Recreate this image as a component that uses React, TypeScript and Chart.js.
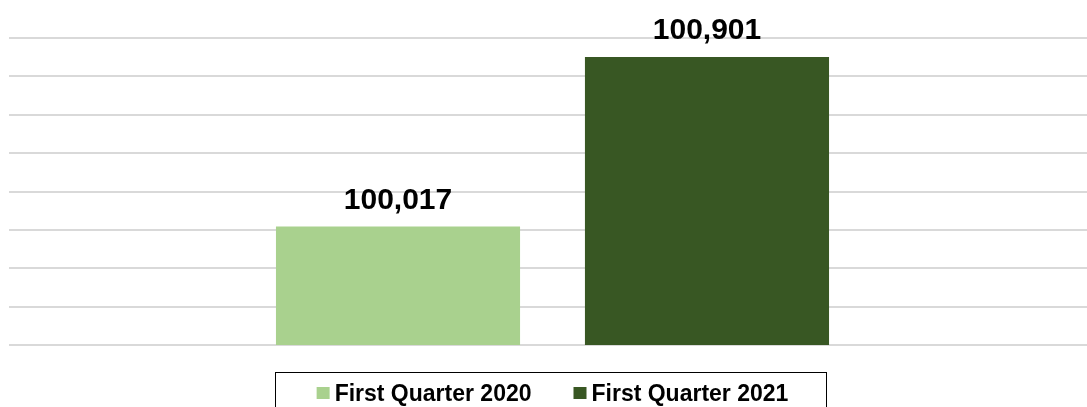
import React, { useEffect, useRef } from "react";
import { Chart, registerables } from "chart.js";

Chart.register(...registerables);

const categories: string[] = ["First Quarter"];
const seriesLabels: string[] = ["First Quarter 2020", "First Quarter 2021"];
const values2020: number[] = [100017];
const values2021: number[] = [100901];
const seriesColors: string[] = ["#A9D18E", "#385723"];
const yMin = 99400;
const yMax = 101000;
const yStep = 200;

const FONT = '"Liberation Sans", Arial, sans-serif';

const valueLabelsPlugin = {
  id: "valueLabels",
  afterDatasetsDraw(chart: any) {
    const ctx = chart.ctx;
    ctx.save();
    ctx.font = `bold 30px ${FONT}`;
    ctx.fillStyle = "#000000";
    ctx.textAlign = "center";
    ctx.textBaseline = "alphabetic";
    chart.data.datasets.forEach((ds: any, i: number) => {
      const meta = chart.getDatasetMeta(i);
      meta.data.forEach((bar: any, j: number) => {
        const v = ds.data[j] as number;
        ctx.fillText(v.toLocaleString("en-US"), bar.x, bar.y - 18);
      });
    });
    ctx.restore();
  },
};

const boxedLegendPlugin = {
  id: "boxedLegend",
  afterDraw(chart: any) {
    const ctx = chart.ctx;
    ctx.save();
    ctx.font = `bold 23px ${FONT}`;
    const sw = 13;
    const sh = 12;
    const gapText = 5;
    const gapItem = 42;
    const items = chart.data.datasets.map((ds: any) => ({
      text: ds.label as string,
      color: ds.backgroundColor as string,
      w: ctx.measureText(ds.label).width,
    }));
    let total = 0;
    items.forEach((it: any, i: number) => {
      total += sw + gapText + it.w + (i < items.length - 1 ? gapItem : 0);
    });
    const boxCenter = 550.5;
    const boxLeft = 275;
    const boxRight = 826;
    const boxTop = 372;
    const boxBottom = 415;
    ctx.strokeStyle = "#000000";
    ctx.lineWidth = 1;
    ctx.strokeRect(boxLeft + 0.5, boxTop + 0.5, boxRight - boxLeft, boxBottom - boxTop);
    let x = boxCenter - total / 2 + 2;
    const baseline = 401;
    items.forEach((it: any) => {
      ctx.fillStyle = it.color;
      ctx.fillRect(x, 387, sw, sh);
      x += sw + gapText;
      ctx.fillStyle = "#000000";
      ctx.textAlign = "left";
      ctx.textBaseline = "alphabetic";
      ctx.fillText(it.text, x, baseline);
      x += it.w + gapItem;
    });
    ctx.restore();
  },
};

export default function App() {
  const ref = useRef<HTMLCanvasElement | null>(null);

  useEffect(() => {
    if (!ref.current) return;
    const chart = new Chart(ref.current, {
      type: "bar",
      data: {
        labels: categories,
        datasets: [
          {
            label: seriesLabels[0],
            data: values2020,
            backgroundColor: seriesColors[0],
            borderWidth: 0,
          },
          {
            label: seriesLabels[1],
            data: values2021,
            backgroundColor: seriesColors[1],
            borderWidth: 0,
          },
        ],
      },
      options: {
        responsive: false,
        animation: false,
        devicePixelRatio: 1,
        layout: { padding: { left: 9, right: 4, top: 38, bottom: 75 } },
        datasets: {
          bar: { categoryPercentage: 0.5685, barPercentage: 0.79 },
        },
        plugins: {
          legend: { display: false },
          tooltip: { enabled: false },
          title: { display: false },
        },
        scales: {
          x: { display: false },
          y: {
            min: yMin,
            max: yMax,
            ticks: { display: false, stepSize: yStep },
            border: { display: false },
            grid: {
              color: "#d9d9d9",
              lineWidth: 2,
              drawTicks: false,
              tickLength: 0,
            },
          },
        },
      },
      plugins: [valueLabelsPlugin, boxedLegendPlugin],
    });
    return () => chart.destroy();
  }, []);

  return (
    <div
      style={{
        position: "fixed",
        left: 0,
        top: 0,
        width: 1087,
        height: 407,
        overflow: "hidden",
        background: "#ffffff",
      }}
    >
      <canvas ref={ref} width={1100} height={420} style={{ width: 1100, height: 420, display: "block" }} />
    </div>
  );
}
